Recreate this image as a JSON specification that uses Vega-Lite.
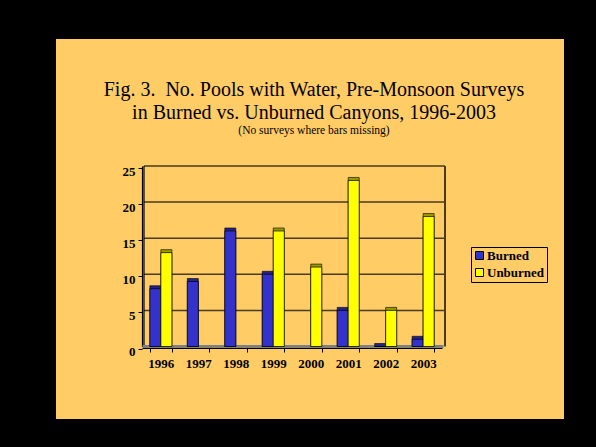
{
  "$schema": "https://vega.github.io/schema/vega-lite/v6.json",
  "width": 508,
  "height": 380,
  "autosize": {"type": "none"},
  "padding": {"left": 56, "top": 39, "right": 32, "bottom": 28},
  "background": "black",
  "config": {
    "view": {"fill": "#FFCC66", "stroke": null},
    "font": "Liberation Serif",
    "axisX": {"offset": -71, "domain": true, "domainColor": "#000", "domainWidth": 1.2, "ticks": true, "tickBand": "extent", "tickSize": 4, "tickColor": "#000",
      "labelFont": "Liberation Serif", "labelFontSize": 13, "labelFontWeight": "bold", "labelColor": "#000", "labelAngle": 0, "labelPadding": 5, "grid": false},
    "axisY": {"offset": -86, "domain": true, "domainColor": "#000", "domainWidth": 1.2, "ticks": true, "tickCount": 5, "tickSize": 4, "tickColor": "#000", "tickOffset": 2,
      "labelFont": "Liberation Serif", "labelFontSize": 13, "labelFontWeight": "bold", "labelColor": "#000", "labelPadding": 3, "labelOffset": 3, "grid": false}
  },
  "title": {
    "text": ["Fig. 3.\u00a0 No. Pools with Water, Pre-Monsoon Surveys", "in Burned vs. Unburned Canyons, 1996-2003"],
    "subtitle": "(No surveys where bars missing)",
    "font": "Liberation Serif", "fontSize": 20, "fontWeight": "normal", "color": "#000", "lineHeight": 23,
    "subtitleFont": "Liberation Serif", "subtitleFontSize": 11.5, "subtitleColor": "#000", "subtitlePadding": 2,
    "anchor": "middle", "frame": "group", "offset": -97, "dx": 4
  },
  "datasets": {
    "grid": [{"v": 5}, {"v": 10}, {"v": 15}, {"v": 20}, {"v": 25}],
    "one": [{}],
    "bars": [
      {"year": "1996", "group": "Burned", "value": 8},
      {"year": "1996", "group": "Unburned", "value": 13},
      {"year": "1997", "group": "Burned", "value": 9},
      {"year": "1998", "group": "Burned", "value": 16},
      {"year": "1999", "group": "Burned", "value": 10},
      {"year": "1999", "group": "Unburned", "value": 16},
      {"year": "2000", "group": "Unburned", "value": 11},
      {"year": "2001", "group": "Burned", "value": 5},
      {"year": "2001", "group": "Unburned", "value": 23},
      {"year": "2002", "group": "Burned", "value": 0},
      {"year": "2002", "group": "Unburned", "value": 5},
      {"year": "2003", "group": "Burned", "value": 1},
      {"year": "2003", "group": "Unburned", "value": 18}
    ]
  },
  "layer": [
    {
      "layer": [
        {
          "data": {"name": "grid"},
          "mark": {"type": "rule", "color": "#4a3a1e", "strokeWidth": 1.5},
          "encoding": {
            "y": {"field": "v", "type": "quantitative", "title": null, "scale": {"domain": [0, 25], "range": [307.5, 127], "nice": false, "zero": false}},
            "x": {"datum": 0, "type": "quantitative", "scale": {"domain": [0, 1], "range": [88, 389], "nice": false, "zero": false}, "axis": null},
            "x2": {"datum": 1}
          }
        },
        {
          "data": {"name": "one"},
          "mark": {"type": "rule", "color": "#4a3a1e", "strokeWidth": 2},
          "encoding": {
            "x": {"datum": 1, "type": "quantitative", "axis": null},
            "y": {"datum": 0, "type": "quantitative", "title": null},
            "y2": {"datum": 25}
          }
        },
        {
          "data": {"name": "one"},
          "mark": {"type": "rule", "color": "#000", "strokeWidth": 1.2},
          "encoding": {
            "x": {"datum": 0, "type": "quantitative", "axis": null},
            "y": {"datum": 0, "type": "quantitative", "title": null},
            "y2": {"datum": 25}
          }
        },
        {
          "data": {"name": "one"},
          "mark": {"type": "rule", "color": "#808080", "strokeWidth": 3},
          "encoding": {
            "x": {"datum": -0.005, "type": "quantitative", "axis": null},
            "x2": {"datum": 0.995},
            "y": {"datum": 0, "type": "quantitative", "title": null}
          }
        }
      ]
    },
    {
      "data": {"name": "bars"},
      "layer": [
        {
          "mark": {"type": "bar", "xOffset": 3, "yOffset": -3, "stroke": "#000", "strokeWidth": 0.6},
          "encoding": {
            "x": {"field": "year", "type": "nominal", "title": null, "scale": {"range": [86, 386], "paddingInner": 0.4125, "paddingOuter": 0.21}},
            "xOffset": {"field": "group", "type": "nominal", "scale": {"domain": ["Burned", "Unburned"], "paddingInner": 0, "paddingOuter": 0}},
            "y": {"field": "value", "type": "quantitative", "title": null},
            "y2": {"datum": 0},
            "color": {"condition": {"test": "datum.group === 'Burned'", "value": "#22228a"}, "value": "#9a9a00"}
          }
        },
        {
          "mark": {"type": "bar", "stroke": "#000", "strokeWidth": 0.7},
          "encoding": {
            "x": {"field": "year", "type": "nominal", "title": null},
            "xOffset": {"field": "group", "type": "nominal"},
            "y": {"field": "value", "type": "quantitative", "title": null},
            "y2": {"datum": 0},
            "color": {"field": "group", "type": "nominal", "scale": {"domain": ["Burned", "Unburned"], "range": ["#3333CC", "#FFFF00"]},
              "legend": {"orient": "none", "legendX": 415, "legendY": 208, "title": null, "fillColor": "#FFCC66", "strokeColor": "#000", "padding": 2,
                "symbolType": "square", "symbolSize": 64, "symbolStrokeColor": "#000", "symbolStrokeWidth": 1,
                "labelFont": "Liberation Serif", "labelFontSize": 13, "labelFontWeight": "bold", "labelColor": "#000", "rowPadding": 3, "labelOffset": 1}}
          }
        }
      ]
    }
  ],
  "resolve": {"scale": {"x": "independent"}}
}
